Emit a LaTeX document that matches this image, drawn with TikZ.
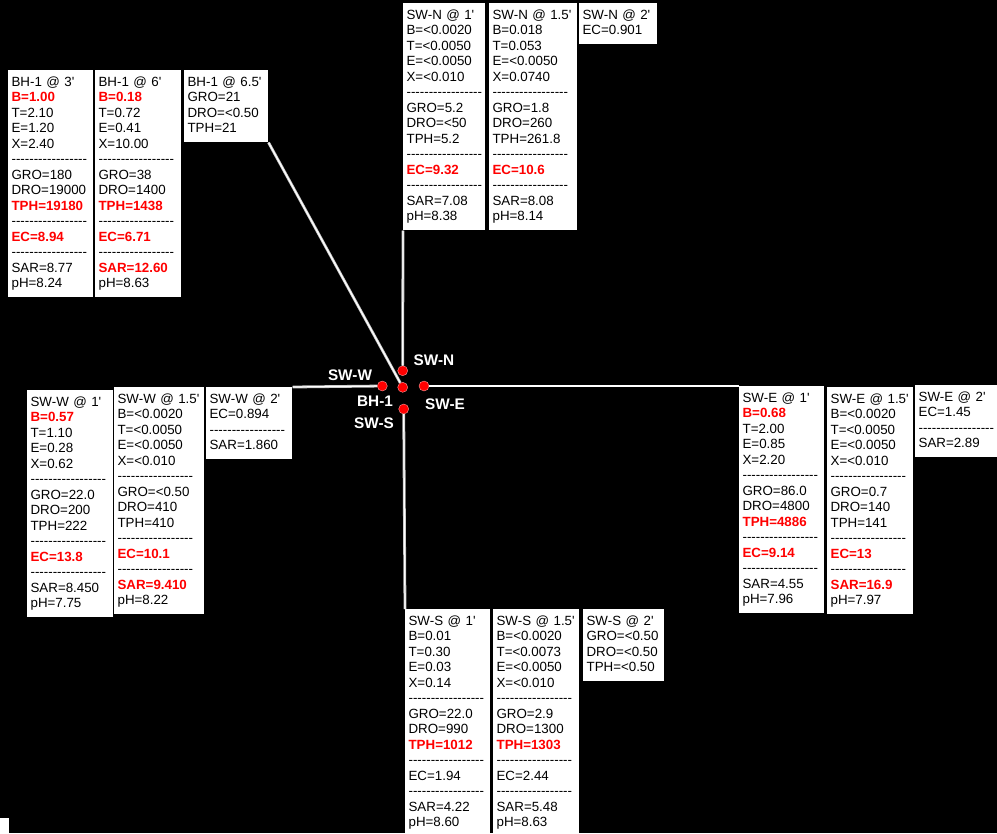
\documentclass[tikz,border=0pt]{standalone}
\usepackage{fontspec}
\setmainfont{Liberation Sans}[Ligatures=TeXOff]
\newcommand{\hit}[1]{\textcolor{red}{\textbf{#1}}}
\newcommand{\dashrow}{\mbox{-----------------}}
\begin{document}
\begin{tikzpicture}[x=0.75pt, y=-0.75pt,
    databox/.style={fill=white, anchor=north west, align=left, inner xsep=2.5pt, inner ysep=3.75pt,
      text width=#1, font=\fontsize{10}{11.625}\selectfont,
      execute at begin node=\strut, execute at end node=\strut},
    sample/.style={circle, fill=red, draw=white!60!red, line width=0.3pt, minimum size=7.5pt, inner sep=0pt},
    tag/.style={text=white, font=\fontsize{11.5}{13}\selectfont\bfseries, inner sep=0pt},
    leader/.style={draw=gray!45, double=white, double distance=0.9pt, line width=0.6pt}]
  \useasboundingbox (0,0) rectangle (997,833);
  \fill[black] (0,0) rectangle (997,833);
  \fill[white] (0,818) rectangle (9,834);
  % boring BH-1
  \node[databox=58.75pt] (bh3) at (8,70) {BH-1 @ 3'\\\hit{B=1.00}\\T=2.10\\E=1.20\\X=2.40\\\dashrow\\GRO=180\\DRO=19000\\\hit{TPH=19180}\\\dashrow\\\hit{EC=8.94}\\\dashrow\\SAR=8.77\\pH=8.24};
  \node[databox=59.5pt] (bh6) at (95,70) {BH-1 @ 6'\\\hit{B=0.18}\\T=0.72\\E=0.41\\X=10.00\\\dashrow\\GRO=38\\DRO=1400\\\hit{TPH=1438}\\\dashrow\\\hit{EC=6.71}\\\dashrow\\\hit{SAR=12.60}\\pH=8.63};
  \node[databox=58pt] (bh65) at (184,70) {BH-1 @ 6.5'\\GRO=21\\DRO=<0.50\\TPH=21};
  % sidewall north
  \node[databox=56.5pt] (swn1) at (403,3) {SW-N @ 1'\\B=<0.0020\\T=<0.0050\\E=<0.0050\\X=<0.010\\\dashrow\\GRO=5.2\\DRO=<50\\TPH=5.2\\\dashrow\\\hit{EC=9.32}\\\dashrow\\SAR=7.08\\pH=8.38};
  \node[databox=61pt] (swn15) at (489,3) {SW-N @ 1.5'\\B=0.018\\T=0.053\\E=<0.0050\\X=0.0740\\\dashrow\\GRO=1.8\\DRO=260\\TPH=261.8\\\dashrow\\\hit{EC=10.6}\\\dashrow\\SAR=8.08\\pH=8.14};
  \node[databox=53.5pt] (swn2) at (579,3) {SW-N @ 2'\\EC=0.901};
  % sidewall west
  \node[databox=59.5pt] (sww1) at (27,390) {SW-W @ 1'\\\hit{B=0.57}\\T=1.10\\E=0.28\\X=0.62\\\dashrow\\GRO=22.0\\DRO=200\\TPH=222\\\dashrow\\\hit{EC=13.8}\\\dashrow\\SAR=8.450\\pH=7.75};
  \node[databox=62.5pt] (sww15) at (114,387) {SW-W @ 1.5'\\B=<0.0020\\T=<0.0050\\E=<0.0050\\X=<0.010\\\dashrow\\GRO=<0.50\\DRO=410\\TPH=410\\\dashrow\\\hit{EC=10.1}\\\dashrow\\\hit{SAR=9.410}\\pH=8.22};
  \node[databox=59.5pt] (sww2) at (206,387) {SW-W @ 2'\\EC=0.894\\\dashrow\\SAR=1.860};
  % sidewall east
  \node[databox=58.75pt] (swe1) at (739,386) {SW-E @ 1'\\\hit{B=0.68}\\T=2.00\\E=0.85\\X=2.20\\\dashrow\\GRO=86.0\\DRO=4800\\\hit{TPH=4886}\\\dashrow\\\hit{EC=9.14}\\\dashrow\\SAR=4.55\\pH=7.96};
  \node[databox=59.5pt] (swe15) at (827,387) {SW-E @ 1.5'\\B=<0.0020\\T=<0.0050\\E=<0.0050\\X=<0.010\\\dashrow\\GRO=0.7\\DRO=140\\TPH=141\\\dashrow\\\hit{EC=13}\\\dashrow\\\hit{SAR=16.9}\\pH=7.97};
  \node[databox=59.5pt] (swe2) at (915,385) {SW-E @ 2'\\EC=1.45\\\dashrow\\SAR=2.89};
  % sidewall south
  \node[databox=58.75pt] (sws1) at (405,609) {SW-S @ 1'\\B=0.01\\T=0.30\\E=0.03\\X=0.14\\\dashrow\\GRO=22.0\\DRO=990\\\hit{TPH=1012}\\\dashrow\\EC=1.94\\\dashrow\\SAR=4.22\\pH=8.60};
  \node[databox=59.5pt] (sws15) at (493,609) {SW-S @ 1.5'\\B=<0.0020\\T=<0.0073\\E=<0.0050\\X=<0.010\\\dashrow\\GRO=2.9\\DRO=1300\\\hit{TPH=1303}\\\dashrow\\EC=2.44\\\dashrow\\SAR=5.48\\pH=8.63};
  \node[databox=55.75pt] (sws2) at (583,609) {SW-S @ 2'\\GRO=<0.50\\DRO=<0.50\\TPH=<0.50};
  % sample points
  \node[sample] (ptn) at (402.7,370.7) {};
  \node[sample] (ptw) at (382.3,386) {};
  \node[sample] (ptb) at (402.7,387.3) {};
  \node[sample] (pte) at (424,386) {};
  \node[sample] (pts) at (403.7,409) {};
  \node[tag] (tagn) at (434,360) {SW-N};
  \node[tag] (tagw) at (350,375) {SW-W};
  \node[tag] (tagb) at (375,401) {BH-1};
  \node[tag] (tage) at (445,404) {SW-E};
  \node[tag] (tags) at (374,423) {SW-S};
  % leaders
  \draw[leader] (ptb) -- (bh65.south east);
  \draw[leader] (ptn) -- (swn1.south west);
  \draw[leader] (ptw) -- (sww2.north east);
  \draw[leader] (pte) -- (swe1.north west);
  \draw[leader] (pts) -- (sws1.north west);
\end{tikzpicture}
\end{document}
